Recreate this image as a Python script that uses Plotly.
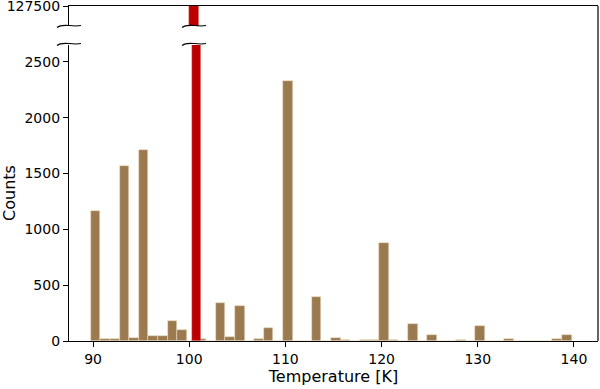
import plotly.graph_objects as go

# Histogram bins (left edges, width 1 K) and counts
bin_left = list(range(90, 140))
counts = [1160, 18, 18, 1570, 27, 1710, 48, 42, 183, 102,
          0, 15, 0, 344, 33, 317, 0, 15, 116, 0,
          2330, 0, 0, 395, 0, 30, 8, 0, 10, 8,
          878, 5, 0, 156, 0, 54, 0, 0, 8, 0,
          132, 0, 0, 20, 0, 0, 0, 0, 15, 57]
highlight_bin = 100
highlight_count = 127510

x_ticks = [90, 100, 110, 120, 130, 140]
y_ticks_low = [0, 500, 1000, 1500, 2000, 2500]
y_ticks_high = [127500]

BROWN = "#9b7a4f"
RED = "#bb0000"
FONT = "DejaVu Sans"

centers = [b + 0.5 for b in bin_left]
brown_counts = [0 if b == highlight_bin else c for b, c in zip(bin_left, counts)]

fig = go.Figure()
edge = dict(color="rgba(240,225,200,0.9)", width=0.6)
red_edge = dict(color="rgba(255,200,200,0.6)", width=0.6)
fig.add_trace(go.Bar(x=centers, y=brown_counts, width=1, marker=dict(color=BROWN, line=edge),
                     xaxis="x", yaxis="y", showlegend=False))
fig.add_trace(go.Bar(x=[highlight_bin + 0.5], y=[highlight_count], width=1,
                     marker=dict(color=RED, line=red_edge),
                     xaxis="x", yaxis="y", showlegend=False))
fig.add_trace(go.Bar(x=[highlight_bin + 0.5], y=[highlight_count], width=1,
                     marker=dict(color=RED, line=red_edge),
                     xaxis="x2", yaxis="y2", showlegend=False))

# geometry in pixels
W, H = 600, 389
L, R, T, B = 69, 598, 6, 341
low_top = 45
high_bot = 26
ph = B - T
pw = R - L

def py(v):
    return (B - v) / ph

def px(v):
    return (v - L) / pw

tickfont = dict(family=FONT, size=14, color="black")
common = dict(showgrid=False, zeroline=False, showline=True, linecolor="black",
              linewidth=1.2, automargin=False, ticklabeloverflow="allow")
fig.update_layout(
    width=W, height=H,
    margin=dict(l=L, r=W - R, t=T, b=H - B, pad=0, autoexpand=False),
    paper_bgcolor="white", plot_bgcolor="white",
    bargap=0,
    font=dict(family=FONT, color="black"),
    xaxis=dict(domain=[0, 1], range=[87.5, 142.5], anchor="y",
               tickvals=x_ticks, ticks="outside", ticklen=5, tickwidth=1.2, tickcolor="black",
               tickfont=tickfont,
               title=dict(text="Temperature [K]", font=dict(family=FONT, size=16), standoff=4),
               **common),
    yaxis=dict(domain=[0, py(low_top)], range=[0, 2650], anchor="x",
               tickvals=y_ticks_low, ticks="outside", ticklen=5, tickwidth=1.2, tickcolor="black",
               tickfont=tickfont,
               title=dict(text="Counts", font=dict(family=FONT, size=16), standoff=8),
               **common),
    xaxis2=dict(domain=[0, 1], range=[87.5, 142.5], anchor="y2", matches="x",
                showticklabels=False, ticks="", side="top", **common),
    yaxis2=dict(domain=[py(high_bot), 1], range=[127300, 127500.5], anchor="x2",
                tickvals=y_ticks_high, ticktext=[str(v) for v in y_ticks_high],
                ticks="outside", ticklen=5, tickwidth=1.2, tickcolor="black",
                tickfont=tickfont, **common),
)

shapes = []
# right spine, continuous
shapes.append(dict(type="line", xref="paper", yref="paper", x0=1, x1=1, y0=0, y1=1,
                   line=dict(color="black", width=1.2)))

def squiggle(cx, cy):
    pts = [(-12, 1.5), (-6, -3.5), (2, 1.5), (12, -0.5)]
    p = [(px(cx + dx), py(cy + dy)) for dx, dy in pts]
    return (f"M {p[0][0]},{p[0][1]} C {p[1][0]},{p[1][1]} "
            f"{p[2][0]},{p[2][1]} {p[3][0]},{p[3][1]}")

red_cx = L + (highlight_bin + 0.5 - 87.5) / 55 * pw
for cx in (L, red_cx):
    for cy in (high_bot, low_top - 1):
        shapes.append(dict(type="path", xref="paper", yref="paper", path=squiggle(cx, cy),
                           line=dict(color="black", width=1.1)))
fig.update_layout(shapes=shapes)

fig.write_html("out.html", config={"displayModeBar": False},
               post_script="document.body.style.margin='0';document.body.style.overflow='hidden';")
